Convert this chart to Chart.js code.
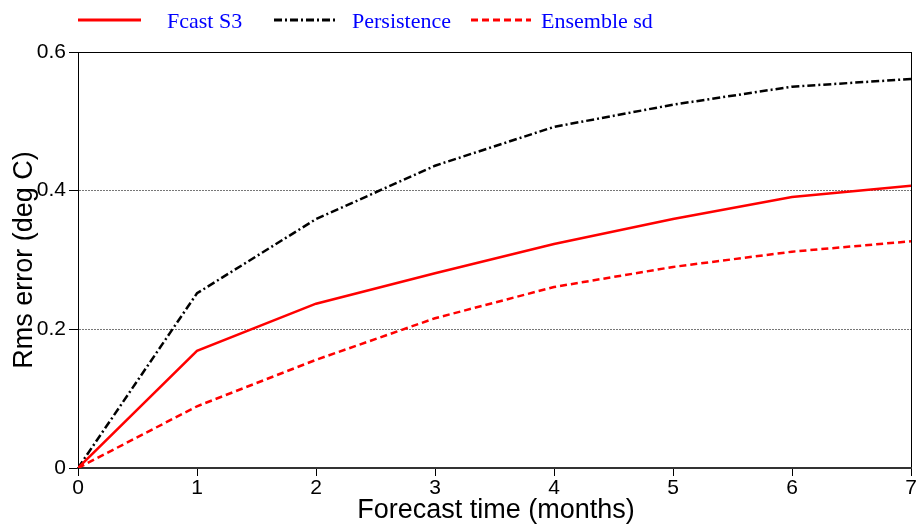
<!DOCTYPE html>
<html><head><meta charset="utf-8">
<script src="https://cdn.jsdelivr.net/npm/chart.js@4.4.0/dist/chart.umd.min.js"></script>
<style>html,body{margin:0;padding:0;background:#fff}#wrap{width:919px;height:525px;position:relative}</style>
</head><body><div id="wrap"><canvas id="c" width="919" height="525"></canvas></div>
<script>
const months = [0, 1, 2, 3, 4, 5, 6, 7];
const fcastS3 = [0, 0.169, 0.237, 0.281, 0.323, 0.359, 0.391, 0.407];
const persistence = [0, 0.252, 0.359, 0.436, 0.492, 0.524, 0.550, 0.561];
const ensembleSd = [0, 0.089, 0.156, 0.216, 0.261, 0.290, 0.312, 0.327];
const yTicks = [0, 0.2, 0.4, 0.6];
const xTicks = [0, 1, 2, 3, 4, 5, 6, 7];
const seriesNames = ['Fcast S3', 'Persistence', 'Ensemble sd'];
const xTitle = 'Forecast time (months)';
const yTitle = 'Rms error (deg C)';

const toPts = arr => arr.map((v, i) => ({x: months[i], y: v}));

const legendLayout = [
  {x1: 78, x2: 141, tx: 167},
  {x1: 274, x2: 335, tx: 352},
  {x1: 471, x2: 531, tx: 541}
];

const extras = {
  id: 'extras',
  afterDraw(chart) {
    const ctx = chart.ctx;
    ctx.save();
    chart.data.datasets.forEach((ds, i) => {
      const L = legendLayout[i];
      ctx.beginPath();
      ctx.setLineDash(ds.borderDash || []);
      ctx.strokeStyle = ds.borderColor;
      ctx.lineWidth = 3;
      ctx.moveTo(L.x1, 20);
      ctx.lineTo(L.x2, 20);
      ctx.stroke();
      ctx.setLineDash([]);
      ctx.fillStyle = '#0000ff';
      ctx.font = '22px "Liberation Serif", "Times New Roman", serif';
      ctx.textBaseline = 'middle';
      ctx.textAlign = 'left';
      ctx.fillText(ds.label, L.tx, 22);
    });
    ctx.fillStyle = '#000';
    ctx.font = '27px "Liberation Sans", Arial, sans-serif';
    ctx.textAlign = 'center';
    ctx.textBaseline = 'middle';
    ctx.fillText(xTitle, 496, 511);
    ctx.translate(25, 260);
    ctx.rotate(-Math.PI / 2);
    ctx.fillText(yTitle, 0, 0);
    ctx.restore();
  }
};

new Chart(document.getElementById('c'), {
  type: 'line',
  data: {
    datasets: [
      {label: seriesNames[0], data: toPts(fcastS3), borderColor: '#ff0000', borderWidth: 2.5, borderDash: [], pointRadius: 0, tension: 0, fill: false},
      {label: seriesNames[1], data: toPts(persistence), borderColor: '#000000', borderWidth: 2.5, borderDash: [8, 3, 2, 3], pointRadius: 0, tension: 0, fill: false},
      {label: seriesNames[2], data: toPts(ensembleSd), borderColor: '#ff0000', borderWidth: 2.5, borderDash: [7, 4], pointRadius: 0, tension: 0, fill: false}
    ]
  },
  options: {
    responsive: false,
    devicePixelRatio: 1,
    animation: false,
    layout: {padding: {top: 52, right: 8, left: 0, bottom: 0}},
    plugins: {legend: {display: false}, tooltip: {enabled: false}},
    scales: {
      x: {
        type: 'linear', min: 0, max: 7,
        afterBuildTicks: s => { s.ticks = xTicks.map(v => ({value: v})); },
        afterFit: s => { s.height = 57; },
        ticks: {color: '#000', font: {family: '"Liberation Sans", Arial, sans-serif', size: 21}, padding: 0, maxRotation: 0,
          callback: v => String(v)},
        grid: {
          color: c => (c.tick && c.tick.value === 7) ? '#000' : 'rgba(0,0,0,0)',
          lineWidth: 1, tickColor: '#000', tickLength: 8, tickWidth: 1
        },
        border: {color: '#333', width: 2}
      },
      y: {
        min: 0, max: 0.6,
        afterBuildTicks: s => { s.ticks = yTicks.map(v => ({value: v})); },
        afterFit: s => { s.width = 78; },
        ticks: {color: '#000', font: {family: '"Liberation Sans", Arial, sans-serif', size: 21}, padding: 3,
          callback: v => v === 0 ? '0' : v.toFixed(1)},
        grid: {
          color: c => { const v = c.tick ? c.tick.value : 0; return v >= 0.59 ? '#000' : (v > 0 ? '#777' : 'rgba(0,0,0,0)'); },
          lineWidth: 1, tickColor: '#000', tickLength: 9, tickWidth: 1
        },
        border: {color: '#000', width: 1,
          dash: c => (c.tick && c.tick.value > 0.01 && c.tick.value < 0.59) ? [2, 1] : []}
      }
    }
  },
  plugins: [extras]
});
</script>
</body></html>
